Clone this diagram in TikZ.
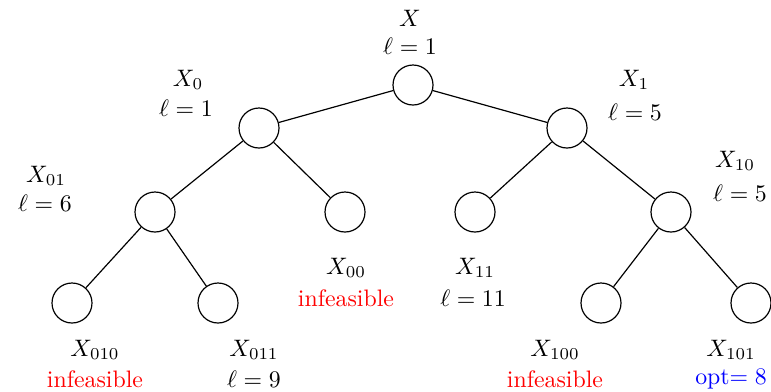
\documentclass[tikz,border=0pt]{standalone}
\begin{document}
\begin{tikzpicture}[x=0.42pt,y=-0.42pt,
  vtx/.style={circle,draw,line width=0.5pt,minimum size=16.8pt,inner sep=0pt},
  lbl/.style={inner sep=0pt,anchor=center},
  edge/.style={line width=0.5pt}]
\useasboundingbox (0,0) rectangle (771,391);
\node[vtx] (r) at (413,85) {};
\node[vtx] (n0) at (259,128) {};
\node[vtx] (n1) at (567,128) {};
\node[vtx] (n01) at (155,212) {};
\node[vtx] (n00) at (345,212) {};
\node[vtx] (n11) at (475,212) {};
\node[vtx] (n10) at (671,212) {};
\node[vtx] (n010) at (72,303) {};
\node[vtx] (n011) at (218,303) {};
\node[vtx] (n100) at (601,303) {};
\node[vtx] (n101) at (751,303) {};
\draw[edge] (r) -- (n0);
\draw[edge] (r) -- (n1);
\draw[edge] (n0) -- (n01);
\draw[edge] (n0) -- (n00);
\draw[edge] (n1) -- (n11);
\draw[edge] (n1) -- (n10);
\draw[edge] (n01) -- (n010);
\draw[edge] (n01) -- (n011);
\draw[edge] (n10) -- (n100);
\draw[edge] (n10) -- (n101);
\node[lbl] (tr) at (410,18) {$X$};
\node[lbl] (tr2) at (410,46) {$\ell=1$};
\node[lbl] (t0) at (188,80) {$X_0$};
\node[lbl] (t02) at (186,108) {$\ell=1$};
\node[lbl] (t1) at (634,80) {$X_1$};
\node[lbl] (t12) at (635,112) {$\ell=5$};
\node[lbl] (t01) at (46,176) {$X_{01}$};
\node[lbl] (t012) at (45,203) {$\ell=6$};
\node[lbl] (t10) at (735,161) {$X_{10}$};
\node[lbl] (t102) at (740,193) {$\ell=5$};
\node[lbl] (t00) at (346,268) {$X_{00}$};
\node[lbl,text=red] (t002) at (346,298) {infeasible};
\node[lbl] (t11) at (475,268) {$X_{11}$};
\node[lbl] (t112) at (473,298) {$\ell=11$};
\node[lbl] (t010) at (95,350) {$X_{010}$};
\node[lbl,text=red] (t0102) at (95,379) {infeasible};
\node[lbl] (t011) at (254,350) {$X_{011}$};
\node[lbl] (t0112) at (254,379) {$\ell=9$};
\node[lbl] (t100) at (555,350) {$X_{100}$};
\node[lbl,text=red] (t1002) at (555,379) {infeasible};
\node[lbl] (t101) at (731,350) {$X_{101}$};
\node[lbl,text=blue] (t1012) at (731,379) {opt$=8$};
\end{tikzpicture}
\end{document}
